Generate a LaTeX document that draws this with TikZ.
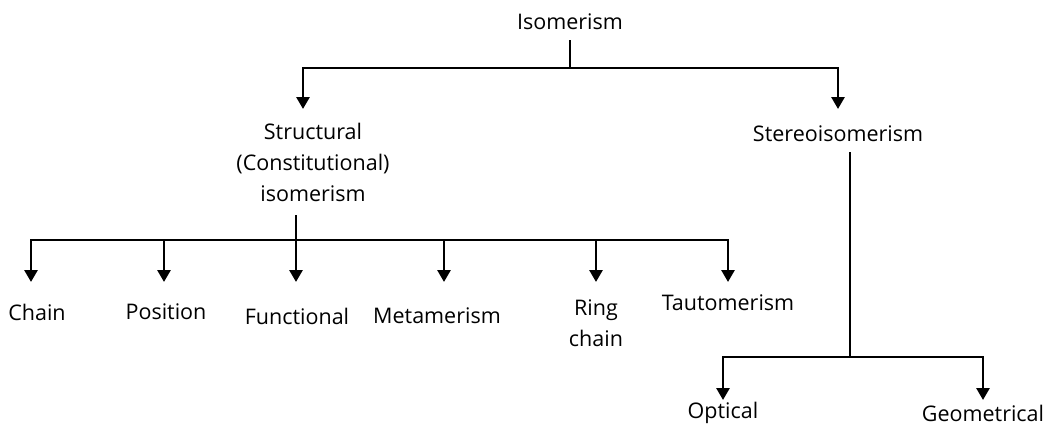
\documentclass[tikz,border=0pt]{standalone}
\usepackage{fontspec}
\setmainfont{Open Sans}
\usetikzlibrary{arrows.meta}
\begin{document}
\begin{tikzpicture}[x=1pt,y=-1pt,
 lbl/.style={font=\fontsize{21.5}{31}\selectfont, inner sep=0pt, align=center},
 conn/.style={line width=2.8pt},
 arr/.style={conn,-{Triangle[width=13pt,length=12pt]}}]
\useasboundingbox (0,0) rectangle (1060,429);
% nodes
\node[lbl] (iso) at (570,22) {Isomerism};
\node[lbl] (struct) at (313,162) {Structural\\(Constitutional)\\isomerism};
\node[lbl] (stereo) at (838,134) {Stereoisomerism};
\node[lbl] (chain) at (37,312) {Chain};
\node[lbl] (pos) at (166,312) {Position};
\node[lbl] (func) at (297,316) {Functional};
\node[lbl] (meta) at (437,316) {Metamerism};
\node[lbl] (ring) at (596,323) {Ring\\chain};
\node[lbl] (taut) at (728,303) {Tautomerism};
\node[lbl] (opt) at (723,413) {Optical};
\node[lbl] (geo) at (983,413) {Geometrical};
% junctions and tips
\coordinate (isoS) at (570,40);
\coordinate (j1) at (570,68);
\coordinate (tStruct) at (303,109);
\coordinate (tStereo) at (838,109);
\coordinate (structS) at (296,215);
\coordinate (j2) at (296,240);
\coordinate (tChain) at (31,282);
\coordinate (tPos) at (164,282);
\coordinate (tFunc) at (296,282);
\coordinate (tMeta) at (444,282);
\coordinate (tRing) at (596,282);
\coordinate (tTaut) at (728,282);
\coordinate (stereoS) at (850,152);
\coordinate (j3) at (850,357);
\coordinate (tOpt) at (723,400);
\coordinate (tGeo) at (983,400);
% connectors
\draw[conn] (isoS) -- (j1);
\draw[arr] (j1) -| (tStruct);
\draw[arr] (j1) -| (tStereo);
\draw[conn] (structS) -- (j2);
\draw[arr] (j2) -| (tChain);
\draw[arr] (j2) -| (tPos);
\draw[arr] (j2) -- (tFunc);
\draw[arr] (j2) -| (tMeta);
\draw[arr] (j2) -| (tRing);
\draw[arr] (j2) -| (tTaut);
\draw[conn] (stereoS) -- (j3);
\draw[arr] (j3) -| (tOpt);
\draw[arr] (j3) -| (tGeo);
\end{tikzpicture}
\end{document}
